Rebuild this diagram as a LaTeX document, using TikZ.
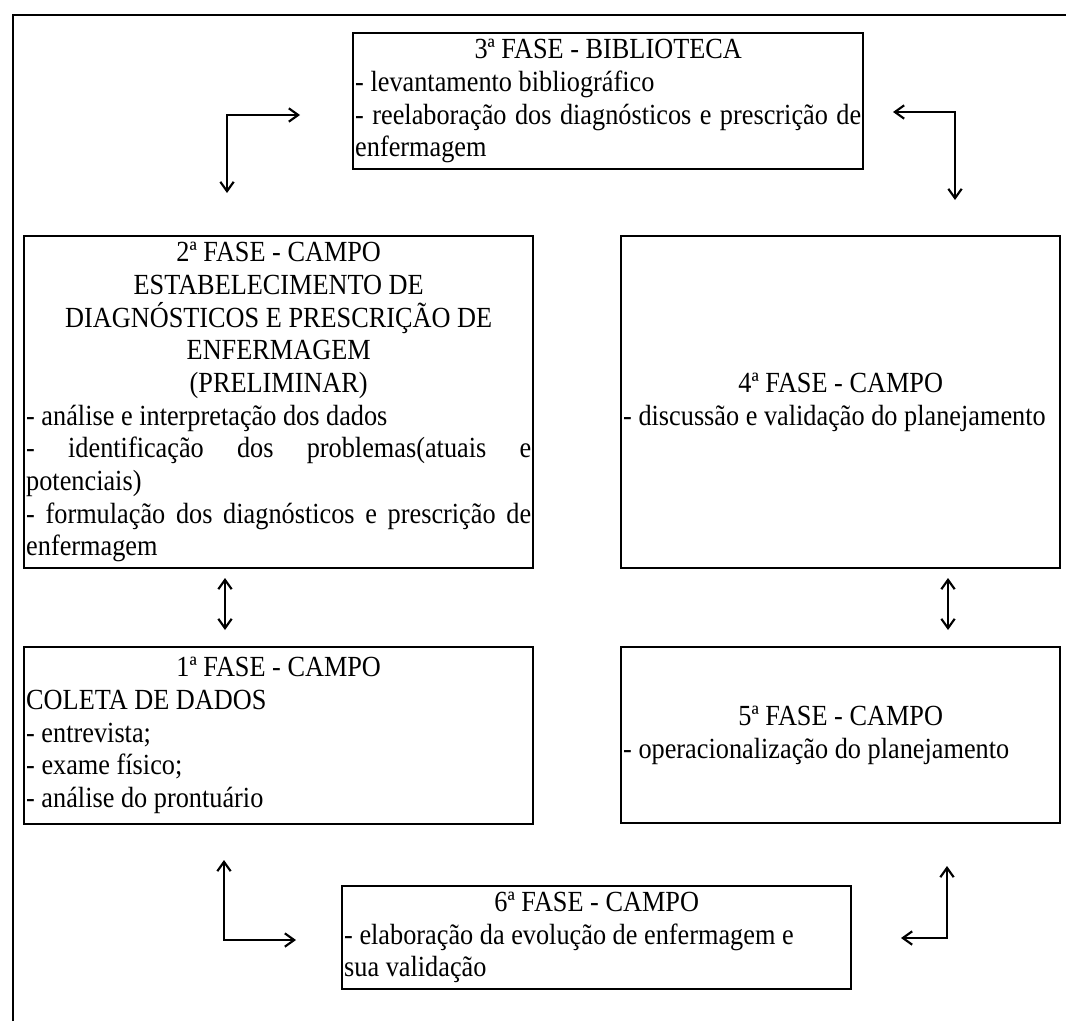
\documentclass[tikz,border=0pt]{standalone}
\usepackage{fontspec}
\setmainfont{Liberation Serif}[FakeStretch=0.9]
\usetikzlibrary{arrows.meta}
\begin{document}
\begin{tikzpicture}[x=0.75pt,y=-0.75pt,
  box/.style={draw, line width=1.8pt, anchor=north west, inner xsep=1.5pt, inner ysep=0pt,
    align=justify,
    font=\fontsize{21.9pt}{24.5pt}\selectfont,
    execute at begin node={\parindent=0pt\hyphenpenalty=10000\hbadness=10000}},
  wide/.style={text width=378.75pt},
  narrow/.style={text width=326.25pt},
  link/.style={line width=1.6pt, {Straight Barb[length=7pt,width=10pt]}-{Straight Barb[length=7pt,width=10pt]}}
]
\useasboundingbox (0,0) rectangle (1066,1021);
\draw[line width=1.6pt] (13,1021) -- (13,15) -- (1066,15);

\node[box, text width=379.5pt, minimum height=102pt] (f3) at (352,32)
  {{\centering 3ª FASE - BIBLIOTECA\par}
   - levantamento bibliográfico\par
   - reelaboração dos diagnósticos e prescrição de\linebreak enfermagem};

\node[box, wide, minimum height=249pt] (f2) at (23,235)
  {{\centering 2ª FASE - CAMPO\par ESTABELECIMENTO DE\par DIAGNÓSTICOS E PRESCRIÇÃO DE\par ENFERMAGEM\par (PRELIMINAR)\par}
   - análise e interpretação dos dados\par
   - identificação dos problemas(atuais e\linebreak potenciais)\par
   - formulação dos diagnósticos e prescrição de\linebreak enfermagem};

\node[box, narrow, minimum height=249pt] (f4) at (620,235)
  {{\centering 4ª FASE - CAMPO\par}
   - discussão e validação do planejamento};

\node[box, wide, minimum height=132.75pt] (f1) at (23,646)
  {{\centering 1ª FASE - CAMPO\par}
   COLETA DE DADOS\par
   - entrevista;\par
   - exame físico;\par
   - análise do prontuário};

\node[box, narrow, minimum height=132pt] (f5) at (620,646)
  {{\centering 5ª FASE - CAMPO\par}
   - operacionalização do planejamento};

\node[box, wide, minimum height=77.25pt] (f6) at (341,885)
  {{\centering 6ª FASE - CAMPO\par}
   - elaboração da evolução de enfermagem e\par
   sua validação};

% connectors (free ends as named coordinates)
\coordinate (a1) at (227,193);
\coordinate (a2) at (300,115);
\coordinate (b1) at (893,112);
\coordinate (b2) at (955,200);
\coordinate (c1) at (225,578);
\coordinate (c2) at (225,630);
\coordinate (d1) at (948,578);
\coordinate (d2) at (948,630);
\coordinate (e1) at (224,860);
\coordinate (e2) at (296,940);
\coordinate (g1) at (947,866);
\coordinate (g2) at (901,938);

\draw[link] (a1) |- (a2);
\draw[link] (b1) -| (b2);
\draw[link] (c1) -- (c2);
\draw[link] (d1) -- (d2);
\draw[link] (e1) |- (e2);
\draw[link] (g1) |- (g2);
\end{tikzpicture}
\end{document}
